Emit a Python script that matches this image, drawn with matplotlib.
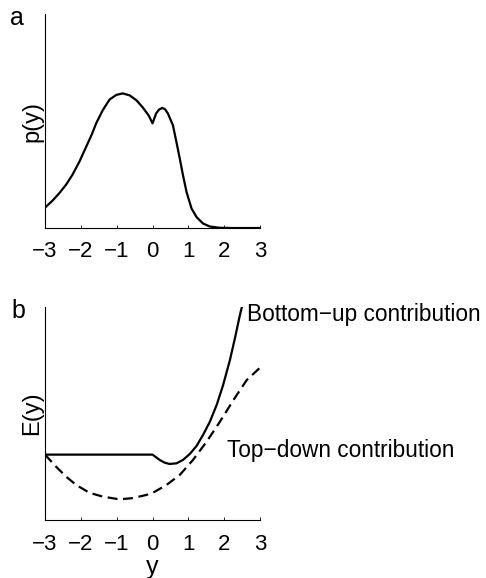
import matplotlib.pyplot as plt

plt.rcParams["font.family"] = ["Liberation Sans", "DejaVu Sans"]

# Panel a: probability density p(y)
pa_x = [-3.0, -2.79, -2.60, -2.41, -2.23, -2.04, -1.85, -1.70, -1.57, -1.39,
        -1.20, -1.01, -0.83, -0.64, -0.45, -0.27, -0.10, 0.0, 0.1, 0.18, 0.27,
        0.35, 0.43, 0.57, 0.67, 0.76, 0.85, 0.95, 1.09, 1.23, 1.41, 1.60,
        1.88, 2.2, 3.0]
pa_y = [0.095, 0.128, 0.163, 0.203, 0.25, 0.31, 0.38, 0.435, 0.49, 0.55,
        0.60, 0.622, 0.629, 0.62, 0.597, 0.563, 0.524, 0.489, 0.535, 0.553,
        0.561, 0.555, 0.535, 0.48, 0.40, 0.325, 0.247, 0.168, 0.091, 0.051,
        0.021, 0.007, 0.001, 0.0, 0.0]

# Panel b: bottom-up energy contribution
bu_x = [-3.0, -2.0, -1.0, 0.0, 0.2, 0.34, 0.48, 0.67, 0.85, 1.04, 1.23,
        1.41, 1.60, 1.79, 1.97, 2.16, 2.30, 2.44, 2.49]
bu_y = [0.306, 0.306, 0.306, 0.306, 0.281, 0.268, 0.262, 0.265, 0.281,
        0.309, 0.347, 0.399, 0.461, 0.54, 0.634, 0.752, 0.855, 0.965, 1.0]

# Panel b: top-down energy contribution
td_x = [-3.0, -2.69, -2.41, -2.13, -1.76, -1.39, -0.92, -0.55, -0.17, 0.01,
        0.39, 0.76, 1.13, 1.51, 1.88, 2.26, 2.63, 2.98]
td_y = [0.306, 0.249, 0.202, 0.163, 0.126, 0.108, 0.095, 0.101, 0.116,
        0.126, 0.163, 0.21, 0.281, 0.367, 0.461, 0.564, 0.658, 0.713]

xticks = [-3, -2, -1, 0, 1, 2, 3]

fig = plt.figure(figsize=(4.86, 5.78), dpi=100)
ax_a = fig.add_axes([0.0926, 0.6055, 0.4424, 0.3703])
ax_b = fig.add_axes([0.0926, 0.1012, 0.4424, 0.3668])


def style_axes(ax, pad):
    ax.set_xlim(-3, 3)
    ax.set_ylim(0, 1)
    ax.spines["top"].set_visible(False)
    ax.spines["right"].set_visible(False)
    ax.spines["left"].set_linewidth(0.8)
    ax.spines["bottom"].set_linewidth(0.8)
    ax.set_xticks(xticks)
    ax.set_yticks([])
    ax.tick_params(axis="x", direction="in", length=2.5, width=0.6,
                   pad=pad, labelsize=16)


# Panel a
ax_a.plot(pa_x, pa_y, color="black", linewidth=1.6)
style_axes(ax_a, 9.5)
ax_a.set_ylabel("p(y)", fontsize=17, labelpad=1)
fig.text(0.02, 0.957, "a", fontsize=18, va="baseline")

# Panel b
ax_b.plot(bu_x, bu_y, color="black", linewidth=1.6)
ax_b.plot(td_x, td_y, color="black", linewidth=1.6, dashes=(4.5, 2.5))
style_axes(ax_b, 10.5)
ax_b.set_ylabel("E(y)", fontsize=17, labelpad=1)
ax_b.set_xlabel("y", fontsize=18, labelpad=0)
fig.text(0.024, 0.45, "b", fontsize=18, va="baseline")

ax_b.text(2.64, 0.938, "Bottom\u2212up contribution", fontsize=16.3,
          va="baseline", ha="left", clip_on=False)
ax_b.text(2.08, 0.296, "Top\u2212down contribution", fontsize=16.3,
          va="baseline", ha="left", clip_on=False)

plt.savefig("out.png", dpi=100)
